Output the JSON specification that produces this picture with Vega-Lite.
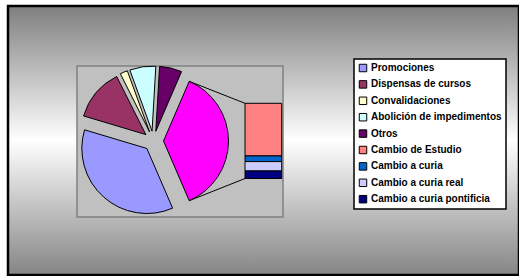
{
  "$schema": "https://vega.github.io/schema/vega-lite/v6.json",
  "width": 511,
  "height": 269,
  "autosize": "none",
  "padding": {"left": 8, "top": 6, "right": 0, "bottom": 1},
  "background": "white",
  "view": {
    "fill": {"gradient": "linear", "x1": 0, "y1": 0, "x2": 0, "y2": 1,
      "stops": [{"offset": 0, "color": "#7f7f7f"}, {"offset": 0.5, "color": "#ffffff"}, {"offset": 1, "color": "#858585"}]},
    "stroke": "black",
    "strokeWidth": 2.5
  },
  "data": {"values": [
    {"name": "Cambios", "value": 40, "group": "pie", "order": 0},
    {"name": "Promociones", "value": 39, "group": "pie", "order": 1},
    {"name": "Dispensas de cursos", "value": 14, "group": "pie", "order": 2},
    {"name": "Convalidaciones", "value": 2, "group": "pie", "order": 3},
    {"name": "Abolición de impedimentos", "value": 7, "group": "pie", "order": 4},
    {"name": "Otros", "value": 6, "group": "pie", "order": 5},
    {"name": "Cambio de Estudio", "value": 28, "group": "bar", "order": 6},
    {"name": "Cambio a curia", "value": 3, "group": "bar", "order": 7},
    {"name": "Cambio a curia real", "value": 5, "group": "bar", "order": 8},
    {"name": "Cambio a curia pontificia", "value": 4, "group": "bar", "order": 9}
  ]},
  "resolve": {"scale": {"y": "independent"}},
  "layer": [
    {
      "data": {"values": [{}]},
      "mark": {"type": "rect", "fill": "#c0c0c0", "stroke": "#808080", "strokeWidth": 1.5},
      "encoding": {
        "x": {"datum": 13.503, "type": "quantitative", "scale": {"domain": [0, 100], "nice": false, "zero": false}, "axis": null},
        "x2": {"datum": 53.816},
        "y": {"datum": 22.30, "type": "quantitative", "scale": {"domain": [0, 100], "nice": false, "zero": false, "reverse": true}, "axis": null},
        "y2": {"datum": 78.44}
      }
    },
    {
      "data": {"values": [{}]},
      "mark": {"type": "rule", "color": "black", "strokeWidth": 1},
      "encoding": {
        "x": {"datum": 35.46, "type": "quantitative", "scale": {"domain": [0, 100], "nice": false, "zero": false}, "axis": null},
        "x2": {"datum": 46.38},
        "y": {"datum": 27.99, "type": "quantitative", "scale": {"domain": [0, 100], "nice": false, "zero": false, "reverse": true}, "axis": null},
        "y2": {"datum": 36.17}
      }
    },
    {
      "data": {"values": [{}]},
      "mark": {"type": "rule", "color": "black", "strokeWidth": 1},
      "encoding": {
        "x": {"datum": 35.46, "type": "quantitative", "scale": {"domain": [0, 100], "nice": false, "zero": false}, "axis": null},
        "x2": {"datum": 46.38},
        "y": {"datum": 72.38, "type": "quantitative", "scale": {"domain": [0, 100], "nice": false, "zero": false, "reverse": true}, "axis": null},
        "y2": {"datum": 64.13}
      }
    },
    {
      "transform": [
        {"filter": {"field": "group", "equal": "pie"}},
        {"stack": "value", "groupby": [], "sort": [{"field": "order", "order": "ascending"}], "as": ["v0", "v1"]},
        {"filter": {"field": "name", "equal": "Cambios"}}
      ],
      "mark": {"type": "arc", "outerRadius": 65, "fill": "#ff00ff", "stroke": "black", "strokeWidth": 1, "xOffset": 10, "yOffset": 0},
      "encoding": {
        "x": {"datum": 28.474, "type": "quantitative", "scale": {"domain": [0, 100], "nice": false, "zero": false}, "axis": null},
        "y": {"datum": 50.19, "type": "quantitative", "scale": {"domain": [0, 100], "nice": false, "zero": false, "reverse": true}, "axis": null},
        "theta": {"field": "v0", "type": "quantitative", "scale": {"domain": [0, 108], "nice": false, "zero": true, "range": [0.40724, 6.69043]}},
        "theta2": {"field": "v1"}
      }
    },
    {
      "transform": [
        {"filter": {"field": "group", "equal": "pie"}},
        {"stack": "value", "groupby": [], "sort": [{"field": "order", "order": "ascending"}], "as": ["v0", "v1"]},
        {"filter": {"field": "name", "equal": "Promociones"}}
      ],
      "mark": {"type": "arc", "outerRadius": 65, "stroke": "black", "strokeWidth": 1, "xOffset": -6.65, "yOffset": 7.47},
      "encoding": {
        "x": {"datum": 28.474, "type": "quantitative", "scale": {"domain": [0, 100], "nice": false, "zero": false}, "axis": null},
        "y": {"datum": 50.19, "type": "quantitative", "scale": {"domain": [0, 100], "nice": false, "zero": false, "reverse": true}, "axis": null},
        "theta": {"field": "v0", "type": "quantitative", "scale": {"domain": [0, 108], "nice": false, "zero": true, "range": [0.40724, 6.69043]}},
        "theta2": {"field": "v1"},
        "color": {"field": "name", "type": "nominal", "title": null,
          "scale": {"domain": ["Promociones", "Dispensas de cursos", "Convalidaciones", "Abolición de impedimentos", "Otros", "Cambio de Estudio", "Cambio a curia", "Cambio a curia real", "Cambio a curia pontificia"],
            "range": ["#9999ff", "#993366", "#ffffcc", "#ccffff", "#660066", "#ff8080", "#0066cc", "#ccccff", "#000080"]}}
      }
    },
    {
      "transform": [
        {"filter": {"field": "group", "equal": "pie"}},
        {"stack": "value", "groupby": [], "sort": [{"field": "order", "order": "ascending"}], "as": ["v0", "v1"]},
        {"filter": {"field": "name", "equal": "Dispensas de cursos"}}
      ],
      "mark": {"type": "arc", "outerRadius": 65, "stroke": "black", "strokeWidth": 1, "xOffset": -7.66, "yOffset": -6.43},
      "encoding": {
        "x": {"datum": 28.474, "type": "quantitative", "scale": {"domain": [0, 100], "nice": false, "zero": false}, "axis": null},
        "y": {"datum": 50.19, "type": "quantitative", "scale": {"domain": [0, 100], "nice": false, "zero": false, "reverse": true}, "axis": null},
        "theta": {"field": "v0", "type": "quantitative", "scale": {"domain": [0, 108], "nice": false, "zero": true, "range": [0.40724, 6.69043]}},
        "theta2": {"field": "v1"},
        "color": {"field": "name", "type": "nominal", "title": null,
          "scale": {"domain": ["Promociones", "Dispensas de cursos", "Convalidaciones", "Abolición de impedimentos", "Otros", "Cambio de Estudio", "Cambio a curia", "Cambio a curia real", "Cambio a curia pontificia"],
            "range": ["#9999ff", "#993366", "#ffffcc", "#ccffff", "#660066", "#ff8080", "#0066cc", "#ccccff", "#000080"]}}
      }
    },
    {
      "transform": [
        {"filter": {"field": "group", "equal": "pie"}},
        {"stack": "value", "groupby": [], "sort": [{"field": "order", "order": "ascending"}], "as": ["v0", "v1"]},
        {"filter": {"field": "name", "equal": "Convalidaciones"}}
      ],
      "mark": {"type": "arc", "outerRadius": 65, "stroke": "black", "strokeWidth": 1, "xOffset": -3.96, "yOffset": -9.18},
      "encoding": {
        "x": {"datum": 28.474, "type": "quantitative", "scale": {"domain": [0, 100], "nice": false, "zero": false}, "axis": null},
        "y": {"datum": 50.19, "type": "quantitative", "scale": {"domain": [0, 100], "nice": false, "zero": false, "reverse": true}, "axis": null},
        "theta": {"field": "v0", "type": "quantitative", "scale": {"domain": [0, 108], "nice": false, "zero": true, "range": [0.40724, 6.69043]}},
        "theta2": {"field": "v1"},
        "color": {"field": "name", "type": "nominal", "title": null,
          "scale": {"domain": ["Promociones", "Dispensas de cursos", "Convalidaciones", "Abolición de impedimentos", "Otros", "Cambio de Estudio", "Cambio a curia", "Cambio a curia real", "Cambio a curia pontificia"],
            "range": ["#9999ff", "#993366", "#ffffcc", "#ccffff", "#660066", "#ff8080", "#0066cc", "#ccccff", "#000080"]}}
      }
    },
    {
      "transform": [
        {"filter": {"field": "group", "equal": "pie"}},
        {"stack": "value", "groupby": [], "sort": [{"field": "order", "order": "ascending"}], "as": ["v0", "v1"]},
        {"filter": {"field": "name", "equal": "Abolición de impedimentos"}}
      ],
      "mark": {"type": "arc", "outerRadius": 65, "stroke": "black", "strokeWidth": 1, "xOffset": -1.45, "yOffset": -9.9},
      "encoding": {
        "x": {"datum": 28.474, "type": "quantitative", "scale": {"domain": [0, 100], "nice": false, "zero": false}, "axis": null},
        "y": {"datum": 50.19, "type": "quantitative", "scale": {"domain": [0, 100], "nice": false, "zero": false, "reverse": true}, "axis": null},
        "theta": {"field": "v0", "type": "quantitative", "scale": {"domain": [0, 108], "nice": false, "zero": true, "range": [0.40724, 6.69043]}},
        "theta2": {"field": "v1"},
        "color": {"field": "name", "type": "nominal", "title": null,
          "scale": {"domain": ["Promociones", "Dispensas de cursos", "Convalidaciones", "Abolición de impedimentos", "Otros", "Cambio de Estudio", "Cambio a curia", "Cambio a curia real", "Cambio a curia pontificia"],
            "range": ["#9999ff", "#993366", "#ffffcc", "#ccffff", "#660066", "#ff8080", "#0066cc", "#ccccff", "#000080"]}}
      }
    },
    {
      "transform": [
        {"filter": {"field": "group", "equal": "pie"}},
        {"stack": "value", "groupby": [], "sort": [{"field": "order", "order": "ascending"}], "as": ["v0", "v1"]},
        {"filter": {"field": "name", "equal": "Otros"}}
      ],
      "mark": {"type": "arc", "outerRadius": 65, "stroke": "black", "strokeWidth": 1, "xOffset": 2.3, "yOffset": -9.73},
      "encoding": {
        "x": {"datum": 28.474, "type": "quantitative", "scale": {"domain": [0, 100], "nice": false, "zero": false}, "axis": null},
        "y": {"datum": 50.19, "type": "quantitative", "scale": {"domain": [0, 100], "nice": false, "zero": false, "reverse": true}, "axis": null},
        "theta": {"field": "v0", "type": "quantitative", "scale": {"domain": [0, 108], "nice": false, "zero": true, "range": [0.40724, 6.69043]}},
        "theta2": {"field": "v1"},
        "color": {"field": "name", "type": "nominal", "title": null,
          "scale": {"domain": ["Promociones", "Dispensas de cursos", "Convalidaciones", "Abolición de impedimentos", "Otros", "Cambio de Estudio", "Cambio a curia", "Cambio a curia real", "Cambio a curia pontificia"],
            "range": ["#9999ff", "#993366", "#ffffcc", "#ccffff", "#660066", "#ff8080", "#0066cc", "#ccccff", "#000080"]}}
      }
    },
    {
      "transform": [
        {"filter": {"field": "group", "equal": "bar"}},
        {"stack": "value", "groupby": [], "sort": [{"field": "order", "order": "ascending"}], "as": ["v0", "v1"]}
      ],
      "mark": {"type": "rect", "stroke": "black", "strokeWidth": 1},
      "encoding": {
        "x": {"datum": 46.38, "type": "quantitative", "scale": {"domain": [0, 100], "nice": false, "zero": false}, "axis": null},
        "x2": {"datum": 53.56},
        "y": {"field": "v0", "type": "quantitative", "scale": {"domain": [-51.76, 91.33], "nice": false, "zero": false, "reverse": true}, "axis": null},
        "y2": {"field": "v1"},
        "color": {"field": "name", "type": "nominal", "title": null,
          "scale": {"domain": ["Promociones", "Dispensas de cursos", "Convalidaciones", "Abolición de impedimentos", "Otros", "Cambio de Estudio", "Cambio a curia", "Cambio a curia real", "Cambio a curia pontificia"],
            "range": ["#9999ff", "#993366", "#ffffcc", "#ccffff", "#660066", "#ff8080", "#0066cc", "#ccccff", "#000080"]}}
      }
    }
  ],
  "config": {
    "legend": {
      "orient": "none",
      "legendX": 346,
      "legendY": 53,
      "fillColor": "white",
      "strokeColor": "black",
      "strokeWidth": 1.5,
      "padding": 4,
      "symbolType": "square",
      "symbolSize": 56,
      "symbolStrokeColor": "black",
      "symbolStrokeWidth": 1,
      "symbolOpacity": 1,
      "labelFont": "Liberation Sans",
      "labelFontWeight": "bold",
      "labelFontSize": 10,
      "labelColor": "black",
      "labelOffset": 3,
      "rowPadding": 4.4,
      "labelLimit": 300
    }
  }
}
